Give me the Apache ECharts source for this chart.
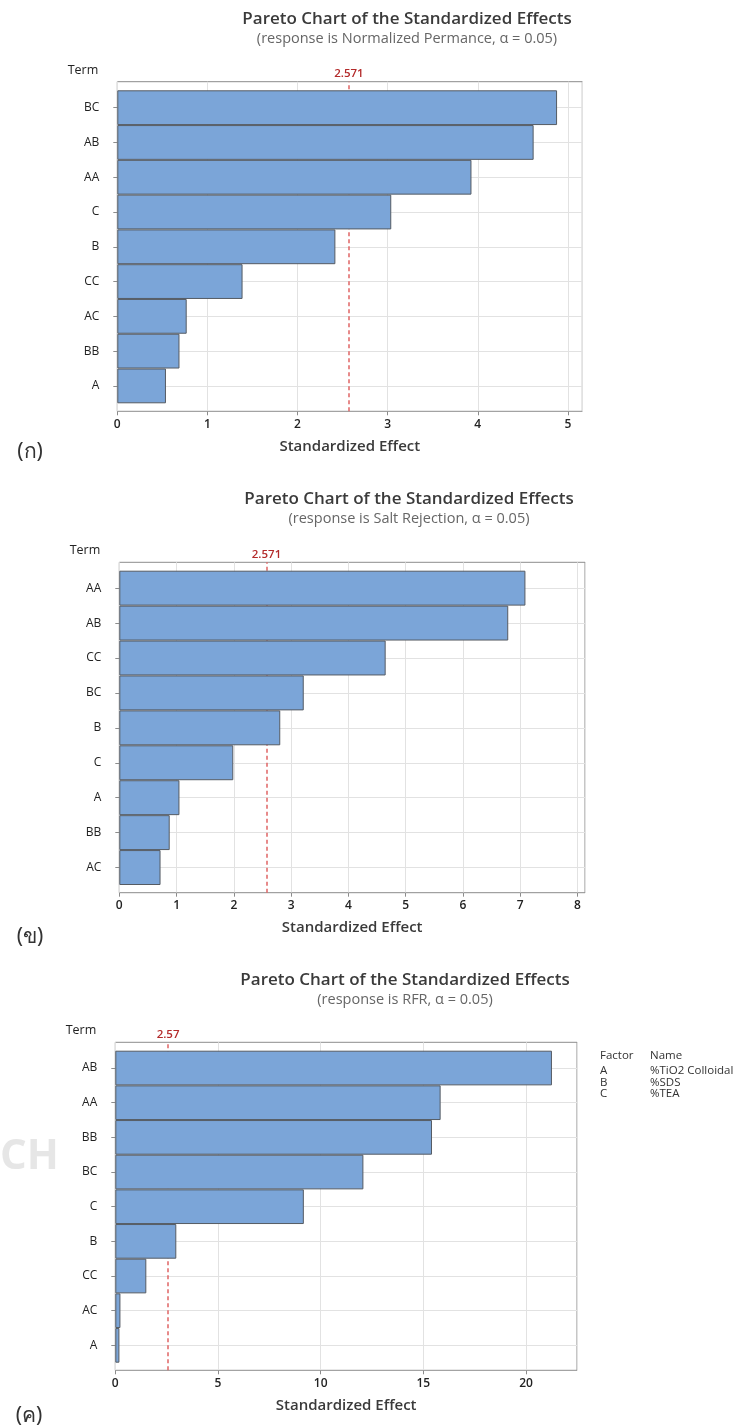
<!DOCTYPE html>
<html>
<head>
<meta charset="utf-8">
<script src="https://cdn.jsdelivr.net/npm/echarts@6/dist/echarts.min.js"></script>
<style>
html,body{margin:0;padding:0;background:#fff;}
#chart{width:738px;height:1428px;}
</style>
</head>
<body>
<div id="chart"></div>
<script>
// ---------------- data ----------------
const titleText = 'Pareto Chart of the Standardized Effects';
const subtitles = [
  '(response is Normalized Permance, \u03b1 = 0.05)',
  '(response is Salt Rejection, \u03b1 = 0.05)',
  '(response is RFR, \u03b1 = 0.05)'
];
const panelLabels = ['(\u0e01)', '(\u0e02)', '(\u0e04)'];

const terms1 = ['BC', 'AB', 'AA', 'C', 'B', 'CC', 'AC', 'BB', 'A'];
const effects1 = [4.88, 4.62, 3.93, 3.04, 2.42, 1.39, 0.77, 0.69, 0.54];

const terms2 = ['AA', 'AB', 'CC', 'BC', 'B', 'C', 'A', 'BB', 'AC'];
const effects2 = [7.09, 6.79, 4.65, 3.22, 2.81, 1.99, 1.05, 0.88, 0.72];

const terms3 = ['AB', 'AA', 'BB', 'BC', 'C', 'B', 'CC', 'AC', 'A'];
const effects3 = [21.26, 15.84, 15.42, 12.08, 9.18, 2.97, 1.51, 0.25, 0.20];

const critValues = [2.571, 2.571, 2.57];
const critLabels = ['2.571', '2.571', '2.57'];

const axisMax = [5.16, 8.13, 22.48];
const axisInterval = [1, 1, 5];

const factorCodes = ['A', 'B', 'C'];
const factorNames = ['%TiO2 Colloidal', '%SDS', '%TEA'];

// ---------------- layout ----------------
const FONT = '"Open Sans", "Noto Sans", sans-serif';
const layouts = [
  {L: 117.3, R: 582.3, T: 81.7, B: 411.3, bT: 90.3, bB: 403.3, tx: 407, ty: 19.3, sy: 39.3, termX: 83, termY: 70, lblX: 30, lblY: 452},
  {L: 119.3, R: 585.0, T: 562.3, B: 892.7, bT: 570.7, bB: 885.0, tx: 409, ty: 499, sy: 519, termX: 85, termY: 550, lblX: 30, lblY: 937},
  {L: 115.3, R: 577.0, T: 1042.3, B: 1370.3, bT: 1050.7, bB: 1362.7, tx: 405, ty: 980, sy: 1000, termX: 81, termY: 1030.7, lblX: 29, lblY: 1416}
];
const panels = [
  {terms: terms1, effects: effects1},
  {terms: terms2, effects: effects2},
  {terms: terms3, effects: effects3}
];

const grid = [], xAxis = [], yAxis = [], series = [], graphic = [];

panels.forEach((p, i) => {
  const g = layouts[i];
  const ga = i * 2, gb = i * 2 + 1;
  // frame grid
  grid.push({left: g.L, top: g.T, width: g.R - g.L, height: g.B - g.T,
    show: true, borderColor: '#8c8c8c', borderWidth: 1, backgroundColor: 'transparent', containLabel: false});
  // bar grid
  grid.push({left: g.L, top: g.bT, width: g.R - g.L, height: g.bB - g.bT, containLabel: false});

  xAxis.push({
    type: 'value', gridIndex: ga, min: 0, max: axisMax[i], interval: axisInterval[i],
    axisLine: {show: false},
    axisTick: {show: true, length: 4, lineStyle: {color: '#8c8c8c'}},
    axisLabel: {show: true, margin: 7, color: '#222', fontSize: 12, fontWeight: 600, fontFamily: FONT, showMaxLabel: false},
    splitLine: {show: true, lineStyle: {color: '#e2e2e2', width: 1}},
    name: 'Standardized Effect', nameLocation: 'middle', nameGap: 28,
    nameTextStyle: {fontSize: 15, color: '#3a3a3a', fontWeight: 600, fontFamily: FONT}
  });
  xAxis.push({type: 'value', gridIndex: gb, min: 0, max: axisMax[i], show: false});

  yAxis.push({type: 'value', gridIndex: ga, min: 0, max: 1, show: false});
  yAxis.push({
    type: 'category', gridIndex: gb, data: p.terms, inverse: true,
    axisLine: {show: false},
    axisTick: {show: true, alignWithLabel: true, length: 4, lineStyle: {color: '#8c8c8c'}},
    axisLabel: {margin: 18, color: '#222', fontSize: 12, fontFamily: FONT, interval: 0},
    splitLine: {show: true, alignWithLabel: true, interval: 0, lineStyle: {color: '#e2e2e2', width: 1}}
  });

  series.push({
    type: 'bar', xAxisIndex: gb, yAxisIndex: gb, data: p.effects,
    barWidth: '100%', z: 10, silent: true,
    itemStyle: {color: '#7BA5D8', borderColor: '#555b63', borderWidth: 1}
  });
  series.push({
    type: 'scatter', xAxisIndex: ga, yAxisIndex: ga, data: [], silent: true,
    markLine: {
      silent: true, symbol: ['none', 'none'], z: 3, animation: false,
      lineStyle: {color: '#e06464', type: [4, 3], width: 1.5},
      label: {show: true, position: 'end', distance: 2, formatter: critLabels[i],
        color: '#b32a2a', fontSize: 11.5, fontWeight: 600, fontFamily: FONT},
      data: [{xAxis: critValues[i]}]
    }
  });

  // texts
  graphic.push({type: 'text', x: g.tx, y: g.ty, style: {text: titleText, textAlign: 'center', textVerticalAlign: 'middle',
    font: '600 17px ' + FONT, fill: '#3a3a3a'}});
  graphic.push({type: 'text', x: g.tx, y: g.sy, style: {text: subtitles[i], textAlign: 'center', textVerticalAlign: 'middle',
    font: '14.5px ' + FONT, fill: '#666'}});
  graphic.push({type: 'text', x: g.termX, y: g.termY, style: {text: 'Term', textAlign: 'center', textVerticalAlign: 'middle',
    font: '12.5px ' + FONT, fill: '#222'}});
  graphic.push({type: 'text', x: g.lblX, y: g.lblY, style: {text: panelLabels[i], textAlign: 'center', textVerticalAlign: 'middle',
    font: '21px "Noto Sans", "DejaVu Sans", sans-serif', fill: '#333'}});
});

// factor legend for third panel
graphic.push({type: 'text', x: 600, y: 1056, style: {text: 'Factor', textVerticalAlign: 'middle', font: '11.5px ' + FONT, fill: '#333'}});
graphic.push({type: 'text', x: 650, y: 1056, style: {text: 'Name', textVerticalAlign: 'middle', font: '11.5px ' + FONT, fill: '#333'}});
factorCodes.forEach((c, k) => {
  const y = 1071 + k * 11.3;
  graphic.push({type: 'text', x: 600, y: y, style: {text: c, textVerticalAlign: 'middle', font: '11.5px ' + FONT, fill: '#333'}});
  graphic.push({type: 'text', x: 650, y: y, style: {text: factorNames[k], textVerticalAlign: 'middle', font: '11.5px ' + FONT, fill: '#333'}});
});
// faint watermark
graphic.push({type: 'text', x: 0, y: 1157, z: -1, style: {text: 'CH', textVerticalAlign: 'middle', font: 'bold 42px "Liberation Sans Narrow", ' + FONT, fill: '#e6e6e6'}});

const chart = echarts.init(document.getElementById('chart'), null, {renderer: 'canvas'});
chart.setOption({
  animation: false,
  backgroundColor: '#ffffff',
  grid, xAxis, yAxis, series, graphic
});
</script>
</body>
</html>
